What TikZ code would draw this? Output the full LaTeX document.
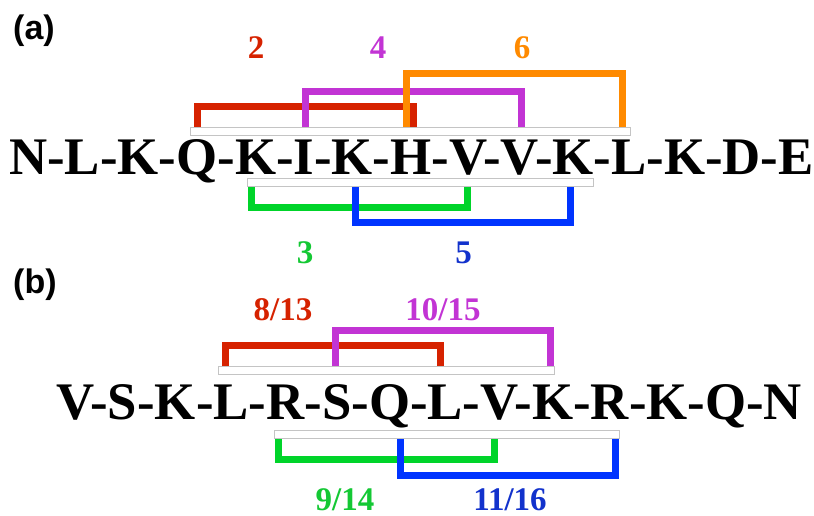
\documentclass[tikz,border=0pt]{standalone}
\usepackage{fontspec}
\setmainfont{Liberation Serif}
\newfontfamily\panelfont{Liberation Sans}
\definecolor{lnRed}{HTML}{D62200}
\definecolor{lnPurple}{HTML}{C234D4}
\definecolor{lnOrange}{HTML}{FF8A00}
\definecolor{lnGreen}{HTML}{00D42A}
\definecolor{lnBlue}{HTML}{0034FF}
\definecolor{txBlue}{HTML}{1232CC}
\definecolor{txGreen}{HTML}{14C834}
\definecolor{barGray}{HTML}{C4C4C4}
\begin{document}
\begin{tikzpicture}[x=1pt,y=-1pt,
  seq/.style={font=\fontsize{52.8}{53}\selectfont\bfseries, inner sep=0pt, anchor=base west},
  num/.style={font=\fontsize{33}{33}\selectfont\bfseries, inner sep=0pt, anchor=base},
  panel/.style={font=\panelfont\fontsize{34}{34}\selectfont\bfseries, inner sep=0pt, anchor=base west},
  bar/.style={draw=barGray, fill=white, line width=1.3pt, inner sep=0pt, rectangle},
  link/.style={line width=7pt, line join=miter, line cap=butt}]
\useasboundingbox (0,0) rectangle (814,516);

% ---------- panel (a) ----------
\node[panel] (pa) at (13,40) {(a)};
\node[seq] (seqA) at (9,175) {N-L-K-Q-K-I-K-H-V-V-K-L-K-D-E};

\node[bar, anchor=north west, minimum width=440pt, minimum height=8pt] (barAt) at (190,127) {};
\node[bar, anchor=north west, minimum width=346pt, minimum height=8pt] (barAb) at (247,178) {};

% links above the sequence
\draw[link, lnRed]    (197,0 |- barAt.north) |- (413.5,107) -- (413.5,0 |- barAt.north);
\draw[link, lnPurple] (305,0 |- barAt.north) |- (521,91.5) -- (521,0 |- barAt.north);
\draw[link, lnOrange] (406.5,0 |- barAt.north) |- (622.5,73.5) -- (622.5,0 |- barAt.north);
% links below the sequence
\draw[link, lnGreen] (251,0 |- barAb.south) |- (467,207) -- (467,0 |- barAb.south);
\draw[link, lnBlue]  (355,0 |- barAb.south) |- (570.5,222) -- (570.5,0 |- barAb.south);

\node[num, lnRed]    (n2) at (256,59) {2};
\node[num, lnPurple] (n4) at (378,59) {4};
\node[num, lnOrange] (n6) at (522,59) {6};
\node[num, txGreen]  (n3) at (305,263) {3};
\node[num, txBlue]   (n5) at (463.5,263) {5};

% ---------- panel (b) ----------
\node[panel] (pb) at (13,293) {(b)};
\node[seq] (seqB) at (56,419) {V-S-K-L-R-S-Q-L-V-K-R-K-Q-N};

\node[bar, anchor=north west, minimum width=336pt, minimum height=8pt] (barBt) at (218,366) {};
\node[bar, anchor=north west, minimum width=345pt, minimum height=8pt] (barBb) at (274,430) {};

\draw[link, lnRed]    (225,0 |- barBt.north) |- (440.5,345.5) -- (440.5,0 |- barBt.north);
\draw[link, lnPurple] (335,0 |- barBt.north) |- (550.5,330.5) -- (550.5,0 |- barBt.north);
\draw[link, lnGreen]  (278,0 |- barBb.south) |- (494.5,459) -- (494.5,0 |- barBb.south);
\draw[link, lnBlue]   (400,0 |- barBb.south) |- (615.5,475) -- (615.5,0 |- barBb.south);

\node[num, lnRed]    (n813)  at (283,320) {8/13};
\node[num, lnPurple] (n1015) at (443,320) {10/15};
\node[num, txGreen]  (n914)  at (345,510) {9/14};
\node[num, txBlue]   (n1116) at (510,510) {11/16};
\end{tikzpicture}
\end{document}
